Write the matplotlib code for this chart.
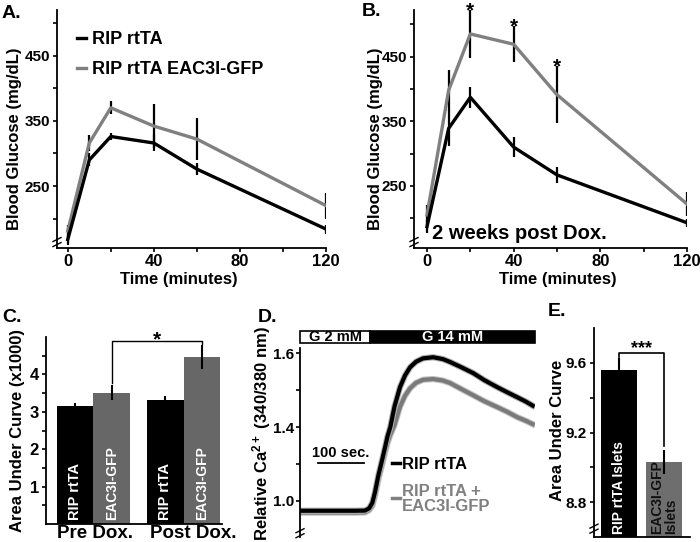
import numpy as np
import matplotlib
matplotlib.use('Agg')
import matplotlib.pyplot as plt
from matplotlib.lines import Line2D
from matplotlib.patches import Rectangle
from matplotlib.ticker import NullFormatter
from matplotlib.transforms import ScaledTranslation

# A / B: glucose tolerance test
time_min = [0, 10, 20, 40, 60, 120]
rip_pre = [168, 290, 326, 316, 276, 184]
rip_pre_err = [9, 10, 6, 12, 9, 7]
eac_pre = [181, 316, 370, 342, 322, 220]
eac_pre_err = [10, 12, 10, 34, 32, 20]

rip_post = [187, 339, 387, 310, 267, 193]
rip_post_err = [10, 28, 16, 15, 13, 6]
eac_post = [205, 398, 485, 469, 391, 222]
eac_post_err = [15, 32, 37, 28, 44, 19]
star_idx = [2, 3, 4]

# C: area under curve
auc_groups = ['Pre Dox.', 'Post Dox.']
auc_rip = [3.16, 3.31]
auc_rip_err = [0.08, 0.10]
auc_eac = [3.51, 4.46]
auc_eac_err = [0.20, 0.32]

# D: calcium trace
ca_time = [0, 60, 120, 141, 150, 157, 163, 170, 178, 185, 190, 196, 205, 217, 228,
           239, 252, 267, 289, 310, 326, 350, 376, 400, 428, 450, 471, 490, 505]
ca_rip = [0.947, 0.947, 0.947, 0.948, 0.96, 0.99, 1.05, 1.137, 1.22, 1.295, 1.35, 1.40,
          1.455, 1.508, 1.540, 1.562, 1.577, 1.586, 1.589, 1.584, 1.576, 1.562, 1.546,
          1.527, 1.508, 1.494, 1.481, 1.469, 1.458]
ca_eac = [0.937, 0.937, 0.937, 0.938, 0.95, 0.974, 1.03, 1.116, 1.195, 1.268, 1.315, 1.358,
          1.405, 1.455, 1.485, 1.505, 1.520, 1.528, 1.530, 1.526, 1.519, 1.503, 1.486,
          1.470, 1.454, 1.441, 1.427, 1.417, 1.408]
switch_time = 152
trace_end = 510

# E: islet AUC
islet_labels = ['RIP rtTA Islets', 'EAC3I-GFP\nIslets']
islet_auc = [9.56, 9.03]
islet_err = [0.07, 0.07]

GRAY = '#808080'
BAR_GRAY = '#676767'

plt.rcParams['font.family'] = ['Liberation Sans', 'DejaVu Sans']
plt.rcParams['font.weight'] = 'bold'
plt.rcParams['axes.labelweight'] = 'bold'
plt.rcParams['mathtext.fontset'] = 'custom'
plt.rcParams['mathtext.rm'] = 'Liberation Sans:bold'
plt.rcParams['mathtext.default'] = 'rm'
plt.rcParams['axes.linewidth'] = 1.3

fig = plt.figure(figsize=(7, 5.42), dpi=100)


def axes_px(left, top, right, bottom):
    return fig.add_axes([left / 700, 1 - bottom / 542, (right - left) / 700, (bottom - top) / 542])


def axis_break(ax, y):
    tr = fig.dpi_scale_trans + ScaledTranslation(0, y, ax.transAxes)
    for dy in (-0.025, 0.025):
        ax.plot([-0.04, 0.04], [dy - 0.02, dy + 0.02], transform=tr, color='black',
                lw=1, clip_on=False)


def style_axes(ax):
    ax.spines[['top', 'right']].set_visible(False)
    ax.tick_params(which='both', direction='out', length=3, width=1.2)


def glucose_panel(ax, rip, rip_err, eac, eac_err, xlim, ylim):
    ax.errorbar(time_min, eac, yerr=eac_err, color=GRAY, lw=2.4, ecolor='black',
                elinewidth=1.6, capsize=0)
    ax.errorbar(time_min, rip, yerr=rip_err, color='black', lw=2.4, elinewidth=1.6, capsize=0)
    ax.set_xlim(xlim)
    ax.set_ylim(ylim)
    ax.set_xticks([0, 40, 80, 120])
    ax.set_xticks([20, 60, 100], minor=True)
    ax.set_yticks([250, 350, 450])
    ax.set_yticks([200, 300, 400, 500], minor=True)
    style_axes(ax)
    ax.tick_params(axis='x', labelsize=12, pad=1)
    ax.tick_params(axis='y', labelsize=11, pad=2)
    ax.set_xlabel('Time (minutes)', fontsize=12)
    ax.set_ylabel('Blood Glucose (mg/dL)', fontsize=12)
    axis_break(ax, 0.025)


# ---- A
ax_a = axes_px(57, 10, 326, 248)
glucose_panel(ax_a, rip_pre, rip_pre_err, eac_pre, eac_pre_err, (-5, 120), (155, 520))
ax_a.xaxis.set_label_coords(0.454, -0.10)
ax_a.yaxis.set_label_coords(-0.13, 0.46)
handles = [Line2D([], [], color='black', lw=2.4), Line2D([], [], color=GRAY, lw=2.4)]
ax_a.legend(handles, ['RIP rtTA', 'RIP rtTA EAC3I-GFP'], loc='upper left',
            bbox_to_anchor=(0.075, 0.912), frameon=False, fontsize=13, handlelength=0.5,
            handletextpad=0.3, labelspacing=0.72, borderaxespad=0, borderpad=0)

# ---- B
ax_b = axes_px(414, 10, 687, 248)
glucose_panel(ax_b, rip_post, rip_post_err, eac_post, eac_post_err, (-6, 120), (154, 522))
ax_b.xaxis.set_label_coords(0.527, -0.10)
ax_b.yaxis.set_label_coords(-0.114, 0.46)
for i in star_idx:
    ax_b.text(time_min[i], eac_post[i] + eac_post_err[i] - 10, '*', fontsize=15,
              ha='center', va='baseline', clip_on=False)
ax_b.text(0.066, 0.063, '2 weeks post Dox.', transform=ax_b.transAxes, fontsize=14.5,
          va='center', ha='left')

# ---- C
ax_c = axes_px(46, 337, 222, 524)
x_rip = np.array([0, 2.47])
x_eac = x_rip + 1
ekw = dict(ecolor='black', elinewidth=1.5, capsize=0)
ax_c.bar(x_rip, auc_rip, width=1, color='black', yerr=auc_rip_err, error_kw=ekw)
ax_c.bar(x_eac, auc_eac, width=1, color=BAR_GRAY, yerr=auc_eac_err, error_kw=ekw)
for x in x_rip:
    ax_c.text(x, 0.12, 'RIP rtTA', rotation=90, ha='center', va='bottom', color='white', fontsize=10.5)
for x in x_eac:
    ax_c.text(x, 0.12, 'EAC3I-GFP', rotation=90, ha='center', va='bottom', color='white', fontsize=10)
foot = auc_eac[0] + auc_eac_err[0] + 0.07
top = auc_eac[1] + auc_eac_err[1] + 0.1
ax_c.plot([x_eac[0], x_eac[0], x_eac[1], x_eac[1]], [foot, top, top, top - 0.08],
          color='black', lw=1, clip_on=False)
ax_c.text(x_eac.mean(), top - 0.1, '*', fontsize=15, ha='center', va='baseline')
ax_c.set_xlim(-0.8, 4.02)
ax_c.set_ylim(0, 5)
ax_c.set_yticks([1, 2, 3, 4])
ax_c.set_yticks([0.5, 1.5, 2.5, 3.5, 4.5], minor=True)
style_axes(ax_c)
ax_c.set_xticks((x_rip + x_eac) / 2 + np.array([0.05, 0.26]), auc_groups)
ax_c.tick_params(axis='x', length=0, labelsize=13.5, pad=1)
ax_c.tick_params(axis='y', labelsize=12, pad=2)
ax_c.set_ylabel('Area Under Curve (x1000)', fontsize=12)
ax_c.yaxis.set_label_coords(-0.12, 0.5)


# ---- D
def fwd(v):
    v = np.asarray(v, float)
    return np.where(v >= 1.4, v, 1.4 - (1.4 - v) * 0.5)


def inv(v):
    v = np.asarray(v, float)
    return np.where(v >= 1.4, v, 1.4 - (1.4 - v) / 0.5)


ax_d = axes_px(300, 348, 535, 537)
ax_d.set_yscale('function', functions=(fwd, inv))
ax_d.plot(ca_time, ca_eac, color='#c4c4c4', lw=4.5)
ax_d.plot(ca_time, ca_eac, color='#7a7a7a', lw=3)
ax_d.plot(ca_time, ca_rip, color='#b0b0b0', lw=4.5)
ax_d.plot(ca_time, ca_rip, color='black', lw=3)
ax_d.set_xlim(0, trace_end)
ax_d.set_ylim(0.805, 1.614)
ax_d.set_yticks([1.0, 1.4, 1.6], ['1.0', '1.4', '1.6'])
ax_d.set_yticks([1.2, 1.5], minor=True)
ax_d.yaxis.set_minor_formatter(NullFormatter())
style_axes(ax_d)
ax_d.spines['bottom'].set_visible(False)
ax_d.set_xticks([])
ax_d.tick_params(axis='y', labelsize=11, pad=1.5)
ax_d.set_ylabel(r'Relative Ca$^{2+}$ (340/380 nm)', fontsize=12)
ax_d.yaxis.set_label_coords(-0.115, 0.545)
axis_break(ax_d, 0.02)
xtr = ax_d.get_xaxis_transform()
ax_d.add_patch(Rectangle((0, 1.026), switch_time, 0.064, transform=xtr, facecolor='white',
                         edgecolor='black', lw=1.2, clip_on=False))
ax_d.add_patch(Rectangle((switch_time, 1.026), trace_end - switch_time, 0.064, transform=xtr,
                         facecolor='black', edgecolor='black', lw=1.2, clip_on=False))
ax_d.text(switch_time / 2, 1.058, 'G 2 mM', transform=xtr, ha='center', va='center', fontsize=10.5)
ax_d.text((switch_time + trace_end) / 2, 1.058, 'G 14 mM', transform=xtr, ha='center',
          va='center', fontsize=10.5, color='white')
ax_d.plot([39, 139], [0.392, 0.392], transform=xtr, color='black', lw=1.3)
ax_d.text(89, 0.445, '100 sec.', transform=xtr, ha='center', va='center', fontsize=10.5)
ax_d.plot([0.39, 0.426], [0.392, 0.392], transform=ax_d.transAxes, color='black', lw=2.5)
ax_d.text(0.434, 0.385, 'RIP rtTA', transform=ax_d.transAxes, ha='left', va='center', fontsize=12)
ax_d.plot([0.39, 0.426], [0.206, 0.206], transform=ax_d.transAxes, color=GRAY, lw=2.5)
ax_d.text(0.434, 0.20, 'RIP rtTA +\nEAC3I-GFP', transform=ax_d.transAxes, ha='left',
          va='center', fontsize=12, color=GRAY, linespacing=1.0)

# ---- E
ax_e = axes_px(594, 328, 690, 537)
x_e = np.array([0, 1.25])
ax_e.bar(x_e, islet_auc, width=1, color=['black', '#6e6e6e'])
ax_e.errorbar(x_e, islet_auc, yerr=islet_err, fmt='none', ecolor='black', elinewidth=1.5, capsize=0)
ax_e.text(x_e[0], 8.615, islet_labels[0], rotation=90, ha='center', va='bottom', color='white', fontsize=10)
ax_e.text(x_e[1], 8.615, islet_labels[1], rotation=90, ha='center', va='bottom', color='#111111',
          fontsize=10, linespacing=0.95, multialignment='left')
e_top = islet_auc[0] + islet_err[0] + 0.025
e_foot = islet_auc[1] + islet_err[1] + 0.025
ax_e.plot([x_e[0], x_e[0], x_e[1], x_e[1]], [e_top - 0.02, e_top, e_top, e_foot],
          color='black', lw=1.2, clip_on=False)
ax_e.text(x_e.mean(), e_top, '***', fontsize=13, ha='center', va='baseline')
ax_e.set_xlim(-0.69, 1.97)
ax_e.set_ylim(8.6, 9.8)
ax_e.set_yticks([8.8, 9.2, 9.6])
ax_e.set_yticks([9.0, 9.4], minor=True)
ax_e.set_xticks([])
style_axes(ax_e)
ax_e.tick_params(axis='y', labelsize=11, pad=2)
ax_e.set_ylabel('Area Under Curve', fontsize=12)
ax_e.yaxis.set_label_coords(-0.30, 0.51)
axis_break(ax_e, 0.04)

# panel letters
for letter, x, y in [('A.', 2, 13), ('B.', 362, 11), ('C.', 2, 318), ('D.', 258, 318), ('E.', 548, 312)]:
    fig.text(x / 700, 1 - y / 542, letter, fontsize=14, ha='left', va='center')

fig.savefig('out.png', dpi=100)
